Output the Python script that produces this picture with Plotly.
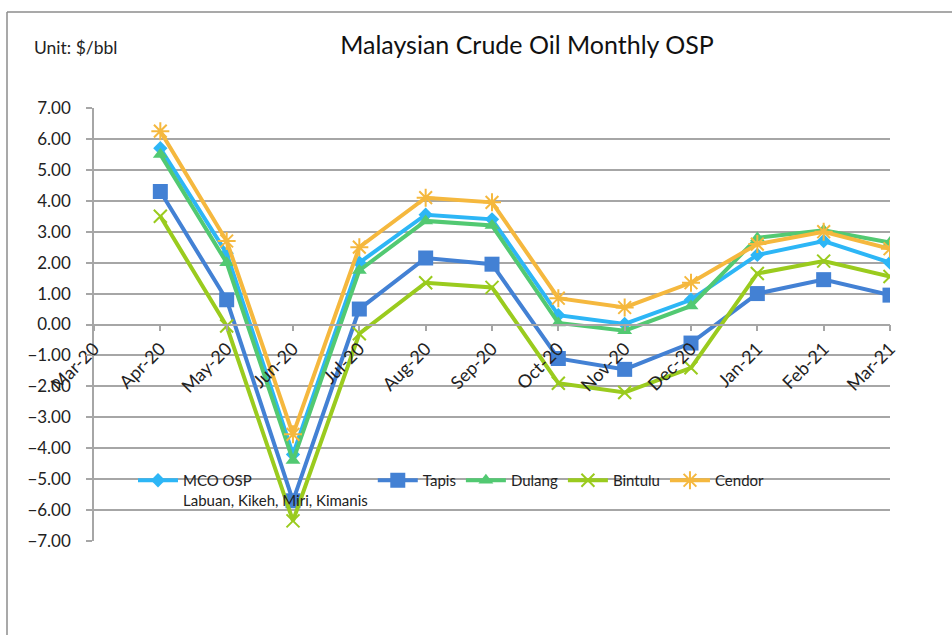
import plotly.graph_objects as go

months = ["Mar-20", "Apr-20", "May-20", "Jun-20", "Jul-20", "Aug-20", "Sep-20",
          "Oct-20", "Nov-20", "Dec-20", "Jan-21", "Feb-21", "Mar-21"]
data_months = months[1:]

mco_osp = [5.70, 2.30, -4.20, 2.00, 3.55, 3.40, 0.30, 0.02, 0.80, 2.25, 2.70, 2.00]
tapis = [4.30, 0.80, -5.70, 0.50, 2.15, 1.95, -1.10, -1.45, -0.60, 1.00, 1.45, 0.95]
dulang = [5.50, 2.00, -4.40, 1.75, 3.35, 3.20, 0.05, -0.20, 0.60, 2.80, 3.05, 2.65]
bintulu = [3.50, -0.05, -6.35, -0.30, 1.35, 1.20, -1.90, -2.20, -1.40, 1.65, 2.05, 1.55]
cendor = [6.25, 2.70, -3.55, 2.50, 4.10, 3.95, 0.85, 0.55, 1.35, 2.60, 3.00, 2.45]

y_ticks = [7, 6, 5, 4, 3, 2, 1, 0, -1, -2, -3, -4, -5, -6, -7]

FONT = "Lato, 'Liberation Sans', sans-serif"

series = [
    ("MCO OSP<br>Labuan, Kikeh, Miri, Kimanis", mco_osp, "#2DB6F6",
     dict(symbol="diamond", size=11)),
    ("Tapis", tapis, "#4381D4", dict(symbol="square", size=15)),
    ("Dulang", dulang, "#52C972", dict(symbol="triangle-up", size=13)),
    ("Bintulu", bintulu, "#9ACB1E",
     dict(symbol="x-thin-open", size=13, line=dict(width=2, color="#9ACB1E"))),
    ("Cendor", cendor, "#F5B83E",
     dict(symbol="asterisk-open", size=15, line=dict(width=2, color="#F5B83E"))),
]

fig = go.Figure()
for name, vals, color, mk in series:
    mk = dict(mk)
    mk.setdefault("color", color)
    fig.add_trace(go.Scatter(
        x=data_months, y=vals, name=name, mode="lines+markers",
        line=dict(color=color, width=4), marker=mk,
    ))

W, H = 952, 635
L, R, T, B = 94, 62, 108, 94
pw, ph = W - L - R, H - T - B

fig.update_layout(
    width=W, height=H,
    margin=dict(l=L, r=R, t=T, b=B),
    paper_bgcolor="white", plot_bgcolor="white",
    font=dict(family=FONT, size=17, color="#222222"),
    title=dict(text="Malaysian Crude Oil Monthly OSP", x=527 / W, xref="container",
               xanchor="center", y=1 - 45 / H, yanchor="middle",
               font=dict(size=25, color="#111111", family=FONT)),
    showlegend=True,
    legend=dict(orientation="h", x=(133 - L) / pw, xanchor="left",
                y=(H - B - 464) / ph, yanchor="top",
                bgcolor="rgba(0,0,0,0)", font=dict(size=15, color="#222222"),
                itemwidth=40, valign="top", traceorder="normal"),
    xaxis=dict(type="category", categoryorder="array", categoryarray=months,
               range=[0, len(months) - 1], anchor="free", position=0.5,
               showgrid=False, showline=True, linecolor="#A6A6A6", linewidth=1.5,
               ticks="outside", ticklen=6, tickcolor="#A6A6A6", tickwidth=1.5,
               tickangle=-45, tickfont=dict(size=18, color="#222222"),
               zeroline=False),
    yaxis=dict(range=[-7, 7], tickvals=y_ticks, tickformat=".2f",
               showgrid=True, gridcolor="#A6A6A6", gridwidth=1.5,
               showline=True, linecolor="#A6A6A6", linewidth=1.5,
               ticks="outside", ticklen=6, tickcolor="#A6A6A6", tickwidth=1.5,
               zeroline=False, tickfont=dict(size=17, color="#222222"),
               ticklabelstandoff=12),
    annotations=[dict(text="Unit: $/bbl", xref="paper", yref="paper",
                      x=(32 - L) / pw, xanchor="left", y=(H - B - 48) / ph,
                      yanchor="middle", showarrow=False,
                      font=dict(size=17.5, color="#222222"))],
    shapes=[
        dict(type="line", xref="paper", yref="paper",
             x0=(7 - L) / pw, x1=(7 - L) / pw, y0=(H - B - 12) / ph, y1=-1,
             line=dict(color="#8C8C8C", width=1.5)),
        dict(type="line", xref="paper", yref="paper",
             x0=(7 - L) / pw, x1=1.5, y0=(H - B - 12) / ph, y1=(H - B - 12) / ph,
             line=dict(color="#8C8C8C", width=1.5)),
    ],
)

fig.write_html("out.html", config={"displayModeBar": False},
               post_script="document.body.style.margin='0';document.body.style.padding='0';")
